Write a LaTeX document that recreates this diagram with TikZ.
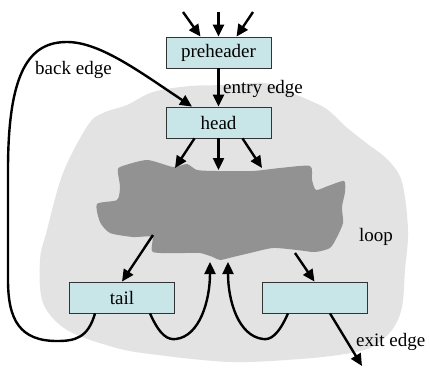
\documentclass[tikz,border=0pt]{standalone}
\usepackage{fontspec}
\setmainfont{Liberation Serif}
\usetikzlibrary{arrows.meta,calc}
\definecolor{boxfill}{RGB}{200,230,232}
\definecolor{loopgray}{RGB}{227,227,227}
\definecolor{bodygray}{RGB}{146,146,146}
\tikzset{
  blk/.style={draw=black!80, line width=0.8pt, fill=boxfill, minimum width=105pt, minimum height=31pt, inner sep=0pt, font=\rmfamily\fontsize{19}{22}\selectfont},
  lbl/.style={inner sep=0pt, anchor=west, font=\rmfamily\fontsize{19}{22}\selectfont},
  flow/.style={line width=2.4pt, -{Triangle[length=12pt,width=11pt]}},
}
\begin{document}
\begin{tikzpicture}[x=1pt,y=-1pt]
\useasboundingbox (0,0) rectangle (430,367);

% loop region
\fill[loopgray] plot[smooth cycle, tension=0.55] coordinates {
  (47,230) (63,173) (88,125) (103,113) (127,105) (153,92) (190,86) (230,85)
  (265,83) (292,93) (325,108) (345,126) (365,142) (388,160) (402,182) (408,230)
  (405,270) (402,307) (392,330) (372,347) (345,354) (300,359) (230,362)
  (150,354) (113,347) (67,330) (43,303) (40,260)};

% loop body
\fill[bodygray] plot[smooth cycle, tension=0.4] coordinates {
  (120,167) (147,160) (173,167) (187,164) (197,170) (217,171) (253,171)
  (280,168) (310,166) (312,180) (316,190) (328,186) (344,181) (345,192)
  (342,207) (343,223) (337,237) (330,248) (315,252) (297,250) (273,248)
  (250,253) (233,257) (220,260) (213,257) (200,253) (183,253) (153,252)
  (152,237) (133,237) (110,233) (100,222) (97,204) (117,200) (120,187)
  (118,173)};

% blocks
\node[blk] (pre)  at (218.5,52.5)  {preheader};
\node[blk] (head) at (218.5,122.5) {head};
\node[blk] (tail) at (122,297.5)   {tail};
\node[blk] (exitb) at (314.5,297.5) {};

% free ends
\coordinate (in1) at (183,12);
\coordinate (in2) at (218.5,12);
\coordinate (in3) at (253,12);
\coordinate (b1) at (175,168);
\coordinate (b2) at (218.5,170);
\coordinate (b3) at (262,168);
\coordinate (bt) at (153,235);
\coordinate (be) at (295,253);
\coordinate (r1) at (210,262);
\coordinate (r2) at (228,262);
\coordinate (out) at (362,366);

% edges into the preheader
\draw[flow] (in1) -- ($(pre.north)+(-18,0)$);
\draw[flow] (in2) -- (pre.north);
\draw[flow] (in3) -- ($(pre.north)+(18,0)$);

% entry edge
\draw[flow] (pre.south) -- (head.north);

% head into the body
\draw[flow] ($(head.south)+(-24,0)$) -- (b1);
\draw[flow] (head.south) -- (b2);
\draw[flow] ($(head.south)+(24,0)$) -- (b3);

% body out to the blocks below
\draw[flow] (bt) -- (tail.north);
\draw[flow] (be) -- (exitb.north);

% curved edges back into the body
\draw[flow] ($(tail.south)+(28,0)$) .. controls (160,336) and (168,340) .. (176,339)
  .. controls (200,336) and (210,300) .. (r1);
\draw[flow] ($(exitb.south)+(-26.5,0)$) .. controls (278,336) and (270,340) .. (263,339)
  .. controls (238,336) and (228,300) .. (r2);

% back edge
\draw[flow] ($(tail.south)+(-27,0)$) .. controls (88,338) and (75,341) .. (57,341)
  .. controls (20,341) and (8,320) .. (8,280) -- (8,170)
  .. controls (8,70) and (30,42) .. (67,42)
  .. controls (100,42) and (140,72) .. ($(head.north)+(-26.5,0)$);

% exit edge
\draw[flow] ($(exitb.south)+(15.5,0)$) -- (out);

% labels
\node[lbl] (lentry) at (223,89) {entry edge};
\node[lbl] (lback) at (35,70) {back edge};
\node[lbl] (lloop) at (359,237) {loop};
\node[lbl] (lexit) at (356,342) {exit edge};
\end{tikzpicture}
\end{document}
